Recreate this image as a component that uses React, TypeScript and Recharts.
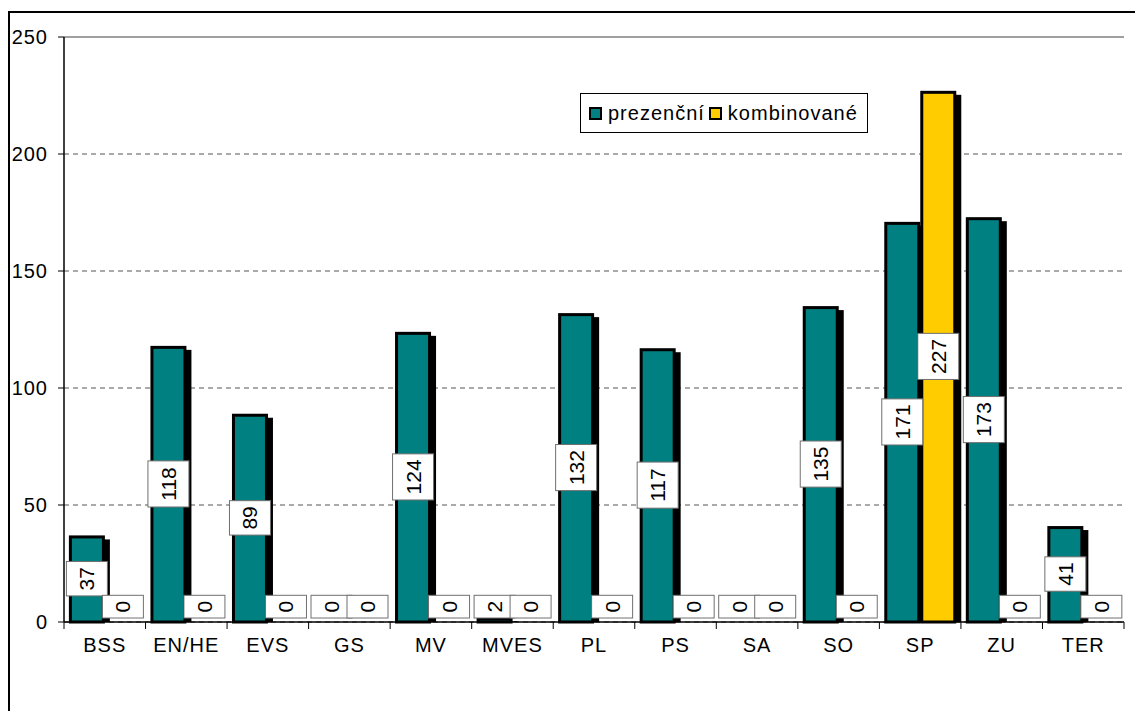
import React from "react";
import { BarChart, Bar, XAxis, YAxis, CartesianGrid, ReferenceLine, LabelList } from "recharts";

const categories = ["BSS", "EN/HE", "EVS", "GS", "MV", "MVES", "PL", "PS", "SA", "SO", "SP", "ZU", "TER"];
const prezencni = [37, 118, 89, 0, 124, 2, 132, 117, 0, 135, 171, 173, 41];
const kombinovane = [0, 0, 0, 0, 0, 0, 0, 0, 0, 0, 227, 0, 0];
const seriesNames = ["prezenční", "kombinované"];
const seriesColors = ["#008080", "#FFCC00"];
const yTicks = [0, 50, 100, 150, 200, 250];

const FONT = '"Liberation Sans", Arial, sans-serif';
const W = 1135;
const H = 703;
const MARGIN = { top: 29, right: 19, bottom: 59, left: 0 };
const Y_AXIS_W = 56;
const X_AXIS_H = 30;
const PLOT_W = W - MARGIN.left - MARGIN.right - Y_AXIS_W;
const BAND = PLOT_W / categories.length;

const data = categories.map((name, i) => ({
  name,
  prezencni: prezencni[i],
  kombinovane: kombinovane[i],
}));

// bar with black outline and a drop shadow to the lower right
const ShadowBar = (props: any) => {
  const { x, y, width, height, fill } = props;
  if (!height || height <= 0) return <g />;
  const sh = Math.max(height - 4, 0);
  return (
    <g>
      {sh > 0 && <rect x={x + 5} y={y + 4} width={width} height={sh} fill="#000" />}
      <rect
        x={x + 1.5}
        y={y + 1.5}
        width={Math.max(width - 3, 0)}
        height={Math.max(height - 1.5, 0)}
        fill={fill}
        stroke="#000"
        strokeWidth={3}
      />
    </g>
  );
};

// Excel-style data label: white box, rotated text, kept inside the plot
const BoxLabel = (props: any) => {
  const vb = props.viewBox || props;
  const x = Number(vb.x);
  const w = Number(vb.width);
  let y = Number(vb.y);
  let h = Number(vb.height);
  if (h < 0) {
    y = y + h;
    h = -h;
  }
  const text = String(props.value);
  const boxH = text.length * 11.7 + 11;
  const boxW = 41;
  const base = y + h;
  const cx = x + w / 2;
  const cy = Math.min(y + h / 2, base - 4 - boxH / 2);
  return (
    <g>
      <rect x={cx - boxW / 2} y={cy - boxH / 2} width={boxW} height={boxH} fill="#fff" stroke="#707070" strokeWidth={1} />
      <text
        x={cx}
        y={cy}
        textAnchor="middle"
        dominantBaseline="central"
        fontSize={21}
        fontFamily={FONT}
        fill="#000"
        transform={`rotate(-90, ${cx}, ${cy})`}
      >
        {text}
      </text>
    </g>
  );
};

const XTick = (props: any) => {
  const { x, y, payload, index } = props;
  return (
    <g>
      <line x1={x - BAND / 2} x2={x - BAND / 2} y1={y} y2={y + 7} stroke="#000" />
      {index === categories.length - 1 && (
        <line x1={x + BAND / 2} x2={x + BAND / 2} y1={y} y2={y + 7} stroke="#000" />
      )}
      <text x={x} y={y + 30} textAnchor="middle" fontSize={20} letterSpacing={1} fontFamily={FONT} fill="#000">
        {payload.value}
      </text>
    </g>
  );
};

export default function App() {
  return (
    <div style={{ position: "relative", width: W, height: H, overflow: "hidden", background: "#fff" }}>
      <div
        style={{
          position: "absolute",
          left: 0,
          top: 3,
          width: W + 20,
          height: H + 20,
          borderTop: "2px solid #000",
          borderLeft: "2px solid #000",
          boxSizing: "border-box",
        }}
      />
      <div style={{ position: "absolute", left: 0, top: 0 }}>
        <BarChart width={W} height={H} data={data} margin={MARGIN} barCategoryGap="6%" barGap={0}>
          <CartesianGrid vertical={false} stroke="#555" strokeDasharray="5 4" />
          <XAxis
            dataKey="name"
            height={X_AXIS_H}
            tickLine={false}
            tickSize={0}
            tickMargin={0}
            axisLine={{ stroke: "#000", strokeWidth: 1.5 }}
            tick={<XTick />}
            interval={0}
          />
          <YAxis
            domain={[0, 250]}
            ticks={yTicks}
            width={Y_AXIS_W}
            tickSize={6}
            tickMargin={10}
            tickLine={{ stroke: "#000" }}
            axisLine={{ stroke: "#000", strokeWidth: 1.5 }}
            tick={{ fontSize: 20, fill: "#000", fontFamily: FONT, letterSpacing: 1 }}
          />
          <YAxis yAxisId="r" orientation="right" width={0} tick={false} tickLine={false} axisLine={{ stroke: "#a0a0a0", strokeWidth: 2 }} />
          <ReferenceLine y={250} stroke="#a0a0a0" strokeWidth={2} />
          <Bar dataKey="prezencni" fill={seriesColors[0]} shape={<ShadowBar />} isAnimationActive={false}>
            <LabelList dataKey="prezencni" content={<BoxLabel />} />
          </Bar>
          <Bar dataKey="kombinovane" fill={seriesColors[1]} shape={<ShadowBar />} isAnimationActive={false}>
            <LabelList dataKey="kombinovane" content={<BoxLabel />} />
          </Bar>
        </BarChart>
      </div>
      <div
        style={{
          position: "absolute",
          left: 572,
          top: 85,
          width: 288,
          height: 40,
          border: "1px solid #000",
          boxSizing: "border-box",
          background: "#fff",
          display: "flex",
          alignItems: "center",
          paddingLeft: 8,
          fontFamily: FONT,
          fontSize: 20,
          letterSpacing: 1,
          color: "#000",
        }}
      >
        {seriesNames.map((n, i) => (
          <span key={n} style={{ display: "flex", alignItems: "center", marginRight: 4 }}>
            <span
              style={{
                display: "inline-block",
                width: 9,
                height: 9,
                background: seriesColors[i],
                border: "2px solid #000",
                marginRight: 6,
              }}
            />
            {n}
          </span>
        ))}
      </div>
    </div>
  );
}
